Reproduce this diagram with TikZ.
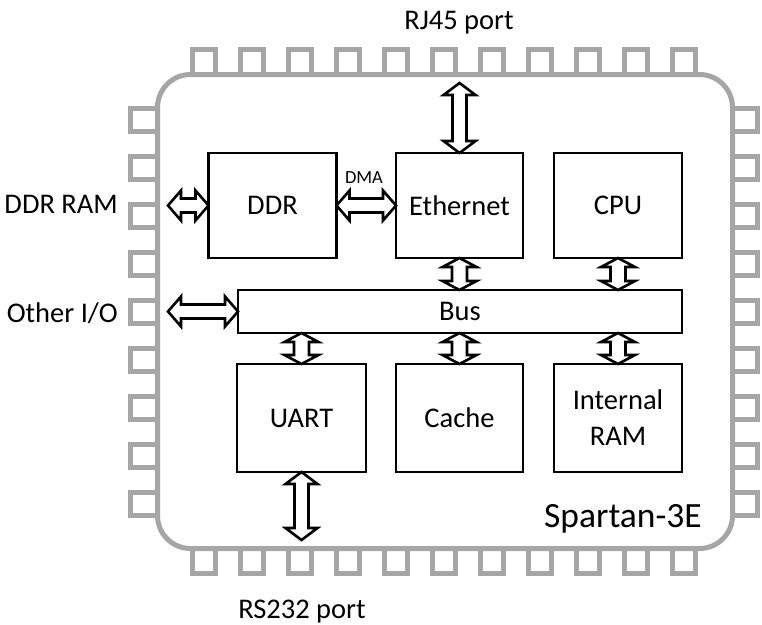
\documentclass[tikz,border=0pt]{standalone}
\usepackage{fontspec}
\setmainfont{Carlito}
\usetikzlibrary{calc}
\definecolor{pingray}{HTML}{A6A6A6}
\tikzset{
  chipline/.style={draw=pingray, line width=5pt},
  pinline/.style={draw=pingray, line width=5pt, line join=miter},
  blk/.style={draw=black, line width=2.75pt, fill=white, inner sep=0pt, outer sep=0pt,
    font=\fontsize{28.5}{36}\selectfont, align=center},
  dblarr/.style={draw=black, line width=2.6pt, fill=white, line join=miter},
  lbl/.style={font=\fontsize{28.5}{34}\selectfont, inner sep=0pt},
}
% horizontal hollow double arrow: #1 left tip, #2 right tip, #3 head length, #4 head half-width, #5 shaft half-width
\newcommand\harr[5]{\draw[dblarr] let \p1=#1, \p2=#2 in
  (\x1,\y1) -- (\x1+#3,\y1+#4) -- (\x1+#3,\y1+#5) -- (\x2-#3,\y1+#5) -- (\x2-#3,\y1+#4)
  -- (\x2,\y1) -- (\x2-#3,\y1-#4) -- (\x2-#3,\y1-#5) -- (\x1+#3,\y1-#5) -- (\x1+#3,\y1-#4) -- cycle;}
% vertical hollow double arrow: #1 top tip, #2 bottom tip
\newcommand\varr[5]{\draw[dblarr] let \p1=#1, \p2=#2 in
  (\x1,\y1) -- (\x1+#4,\y1-#3) -- (\x1+#5,\y1-#3) -- (\x1+#5,\y2+#3) -- (\x1+#4,\y2+#3)
  -- (\x1,\y2) -- (\x1-#4,\y2+#3) -- (\x1-#5,\y2+#3) -- (\x1-#5,\y1-#3) -- (\x1-#4,\y1-#3) -- cycle;}
\begin{document}
\begin{tikzpicture}[x=1pt,y=-1pt]
\useasboundingbox (0,0) rectangle (762,624);
% pins
\foreach \k in {0,...,10} {
  \draw[pinline] (192.5+48*\k,74.5) -- (192.5+48*\k,49.5) -- (215.5+48*\k,49.5) -- (215.5+48*\k,74.5);
  \draw[pinline] (192.5+48*\k,548.5) -- (192.5+48*\k,573.5) -- (215.5+48*\k,573.5) -- (215.5+48*\k,548.5);
}
\foreach \k in {0,...,8} {
  \draw[pinline] (157.5,108.5+48*\k) -- (130.5,108.5+48*\k) -- (130.5,131.5+48*\k) -- (157.5,131.5+48*\k);
  \draw[pinline] (732.5,108.5+48*\k) -- (757.5,108.5+48*\k) -- (757.5,131.5+48*\k) -- (732.5,131.5+48*\k);
}
% chip outline
\draw[chipline, fill=white, rounded corners=33pt] (157.5,74.5) rectangle (732.5,548.5);

% blocks
\node[blk, minimum width=128pt, minimum height=105pt] (ddr) at (272.5,205.5) {DDR};
\node[blk, minimum width=127pt, minimum height=105pt] (eth) at (459.5,205.5) {Ethernet};
\node[blk, minimum width=128pt, minimum height=105pt] (cpu) at (618,205.5) {CPU};
\node[blk, minimum width=444pt, minimum height=43pt] (bus) at (460,311.5) {Bus};
\node[blk, minimum width=129pt, minimum height=108pt] (uart) at (301.5,418) {UART};
\node[blk, minimum width=127pt, minimum height=108pt] (cache) at (459.5,418) {Cache};
\node[blk, minimum width=128pt, minimum height=108pt] (iram) at (618,418) {Internal\\RAM};

% free ends
\coordinate (rjend) at (459.5,83);
\coordinate (rsend) at (301.5,540);
\coordinate (ddrend) at (168,205.5);
\coordinate (ioend) at (168,311.5);

% arrows
\varr{(rjend)}{(eth.north)}{12pt}{16pt}{7pt}
\varr{(uart.south)}{(rsend)}{12pt}{16pt}{7pt}
\harr{(ddrend)}{(ddr.west)}{13pt}{15pt}{7pt}
\harr{(ddr.east)}{(eth.west)}{13pt}{15pt}{7pt}
\harr{(ioend)}{(bus.west)}{13pt}{15pt}{7pt}
\varr{(eth.south)}{(bus.north)}{9pt}{17pt}{7.5pt}
\varr{(cpu.south)}{(bus.north)}{9pt}{17pt}{7.5pt}
\varr{(bus.south -| uart.north)}{(uart.north)}{9pt}{17pt}{7.5pt}
\varr{(bus.south -| cache.north)}{(cache.north)}{9pt}{17pt}{7.5pt}
\varr{(bus.south -| iram.north)}{(iram.north)}{9pt}{17pt}{7.5pt}

% labels
\node[font=\fontsize{18.5}{22}\selectfont, inner sep=0pt, anchor=base] (dma) at (364,183) {DMA};
\node[lbl, anchor=base] (rj45) at (459,29) {RJ45 port};
\node[lbl, anchor=base] (rs232) at (302,618) {RS232 port};
\node[lbl, anchor=base east] (ddrram) at (118,213) {DDR RAM};
\node[lbl, anchor=base east] (otherio) at (118,322) {Other I/O};
\node[font=\fontsize{35.5}{40}\selectfont, inner sep=0pt, anchor=base] (spartan) at (623,527) {Spartan-3E};
\end{tikzpicture}
\end{document}
